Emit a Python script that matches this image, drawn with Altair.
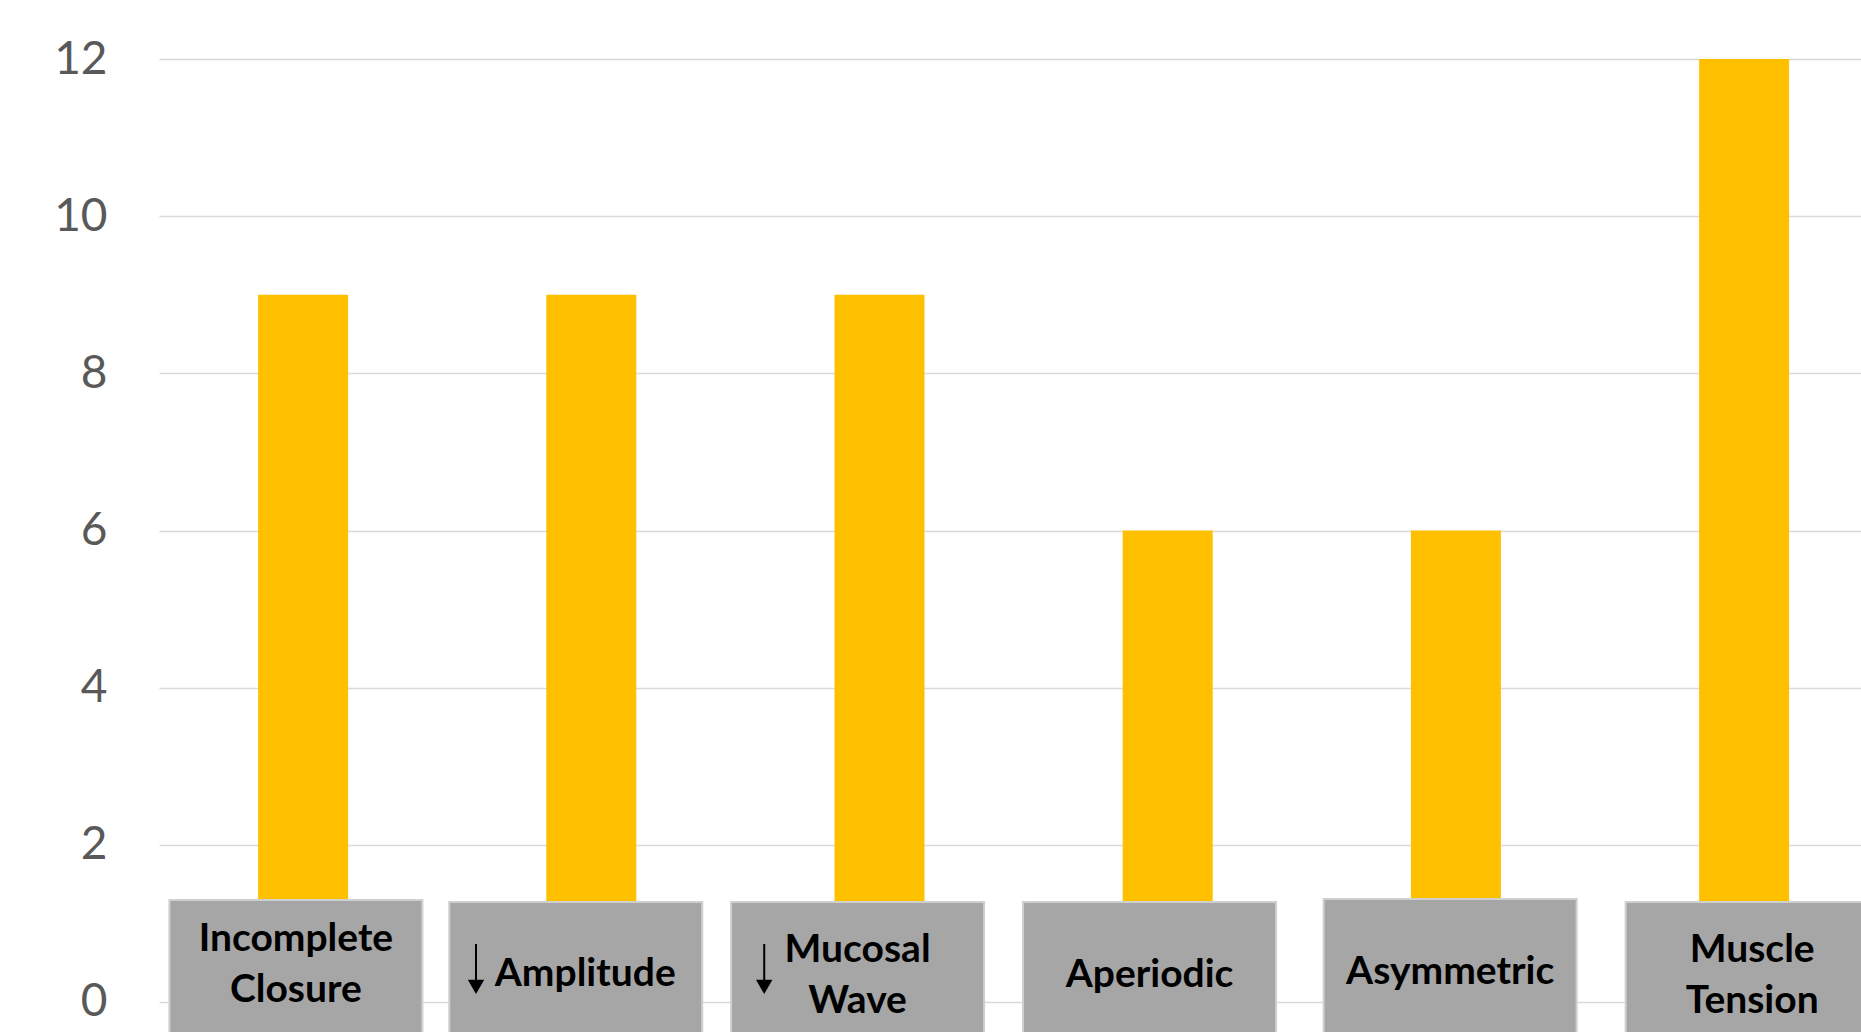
import altair as alt
import pandas as pd

# ---- data ----
categories = ["Incomplete Closure", "Amplitude", "Mucosal Wave",
              "Aperiodic", "Asymmetric", "Muscle Tension"]
label_text = ["Incomplete\nClosure", "Amplitude", "Mucosal\nWave",
              "Aperiodic", "Asymmetric", "Muscle\nTension"]
decreased = [False, True, True, False, False, False]   # drawn with a down arrow
counts = [9, 9, 9, 6, 6, 12]
y_ticks = [0, 2, 4, 6, 8, 10, 12]

# ---- layout of the label boxes (in axis units) ----
box_shift = [-0.025, -0.054, -0.076, -0.063, -0.020, 0.028]
text_shift = [0.0, 0.033, 0.0, 0.0, 0.0, 0.0]
box_top = [1.298, 1.273, 1.273, 1.273, 1.311, 1.273]
label_base = [0.645, 0.200, 0.508, 0.190, 0.228, 0.508]
arrow_shift = -0.40

idx = list(range(len(categories)))
df = pd.DataFrame({
    "idx": idx,
    "category": categories,
    "count": counts,
    "label": label_text,
    "box_x": [i + s for i, s in zip(idx, box_shift)],
    "text_x": [i + s + t for i, s, t in zip(idx, box_shift, text_shift)],
    "box_top": box_top,
    "box_bottom": [-1.0] * len(idx),
    "label_y": label_base,
})
arrows = pd.DataFrame({
    "ax": [i + arrow_shift for i, d in zip(idx, decreased) if d],
    "top": [0.738 for d in decreased if d],
    "bot": [0.255 for d in decreased if d],
    "head": [0.191 for d in decreased if d],
})

x_scale = alt.Scale(domain=[-0.5, 5.4056], nice=False, zero=False, padding=0)
y_scale = alt.Scale(domain=[-0.3818, 12.751], nice=False, zero=False, padding=0)
y_axis = alt.Axis(values=y_ticks, title=None, domain=False, ticks=False,
                  tickSize=0, labelPadding=52, labelFont="Lato",
                  labelFontSize=46, labelColor="#595959",
                  grid=True, gridColor="#D9D9D9", gridWidth=1.3)

bars = alt.Chart(df).mark_bar(size=90, color="#FFC000").encode(
    x=alt.X("idx:Q", scale=x_scale, axis=None),
    y=alt.Y("count:Q", scale=y_scale, axis=y_axis),
    y2=alt.datum(0),
)

boxes = alt.Chart(df).mark_bar(size=253, color="#A6A6A6", stroke="#CFCFCF",
                               strokeWidth=2, clip=True).encode(
    x=alt.X("box_x:Q", scale=x_scale, axis=None),
    y=alt.Y("box_top:Q", scale=y_scale, axis=y_axis),
    y2="box_bottom:Q",
)

labels = alt.Chart(df).mark_text(font="Lato", fontWeight="bold", fontSize=39,
                                 color="#000000", align="center",
                                 baseline="alphabetic", lineBreak="\n",
                                 lineHeight=51).encode(
    x=alt.X("text_x:Q", scale=x_scale, axis=None),
    y=alt.Y("label_y:Q", scale=y_scale, axis=y_axis),
    text="label:N",
)

arrow_line = alt.Chart(arrows).mark_rule(color="#000000", strokeWidth=2).encode(
    x=alt.X("ax:Q", scale=x_scale, axis=None),
    y=alt.Y("top:Q", scale=y_scale, axis=y_axis),
    y2="bot:Q",
)
arrow_head = alt.Chart(arrows).mark_point(shape="triangle-down", filled=True,
                                          size=270, color="#000000",
                                          opacity=1).encode(
    x=alt.X("ax:Q", scale=x_scale, axis=None),
    y=alt.Y("head:Q", scale=y_scale, axis=y_axis),
)

chart = alt.layer(bars, boxes, labels, arrow_line, arrow_head).properties(
    width=1702, height=1032,
    autosize=alt.AutoSizeParams(type="none"),
    padding={"left": 159, "right": 0, "top": 0, "bottom": 0},
    background="#FFFFFF",
).configure_view(stroke=None)

chart.save("out.html", embed_options={"renderer": "svg", "actions": False})
